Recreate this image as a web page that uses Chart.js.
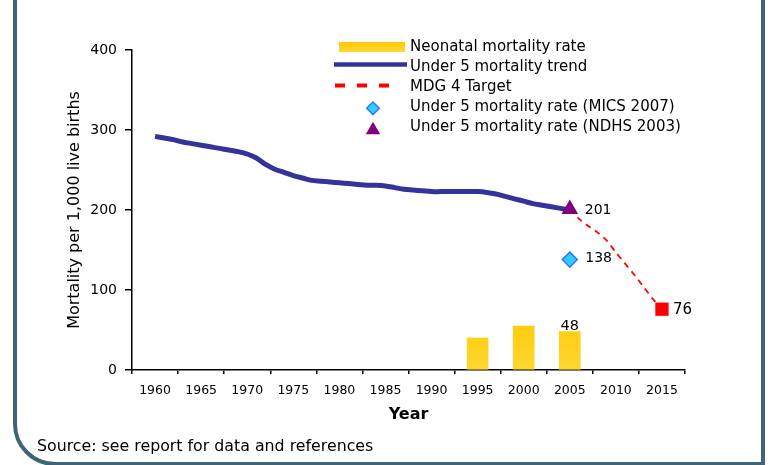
<!DOCTYPE html>
<html>
<head>
<meta charset="utf-8">
<script src="https://cdn.jsdelivr.net/npm/chart.js@4.4.1/dist/chart.umd.min.js"></script>
<style>
  html, body { margin: 0; padding: 0; background: #fff; }
  body { width: 768px; height: 465px; position: relative; overflow: hidden; font-family: "DejaVu Sans", sans-serif; }
  #frame { position: absolute; left: 13px; top: -60px; width: 752px; height: 526px; box-sizing: border-box;
           border: 4px solid #3F6478; border-bottom-left-radius: 42px; }
  #wrap { position: absolute; left: 0; top: 0; width: 768px; height: 465px; }
  #source { position: absolute; left: 37px; top: 436px; font-size: 15.8px; color: #000; white-space: nowrap; }
</style>
</head>
<body>
<div id="frame"></div>
<div id="wrap"><canvas id="mortalityChart"></canvas></div>
<div id="source">Source: see report for data and references</div>
<script>
(() => {
  'use strict';

  // x axis ticks (years)
  const tickYears = [1960, 1965, 1970, 1975, 1980, 1985, 1990, 1995, 2000, 2005, 2010, 2015];

  // neonatal mortality bars
  const neonatalYears = [1995, 2000, 2005];
  const neonatalRate = [40, 55, 48];

  // under 5 mortality trend (yearly)
  const trendYears = [1960, 1961, 1962, 1963, 1964, 1965, 1966, 1967, 1968, 1969,
                      1970, 1971, 1972, 1973, 1974, 1975, 1976, 1977, 1978, 1979,
                      1980, 1981, 1982, 1983, 1984, 1985, 1986, 1987, 1988, 1989,
                      1990, 1991, 1992, 1993, 1994, 1995, 1996, 1997, 1998, 1999,
                      2000, 2001, 2002, 2003, 2004, 2005];
  const trendRate = [292, 290, 288, 285, 283, 281, 279, 277, 275, 273,
                     270, 265, 257, 251, 247, 243, 240, 237, 236, 235,
                     234, 233, 232, 231, 231, 230, 228, 226, 225, 224,
                     223, 223, 223, 223, 223, 223, 222, 220, 217, 214,
                     211, 208, 206, 204, 202, 200];

  // MDG 4 target path
  const targetYears = [2005, 2006, 2007, 2008, 2009, 2010, 2011, 2012, 2013, 2014, 2015];
  const targetRate = [201, 189, 180, 172, 162, 147, 133, 119, 104, 89, 76];

  // survey points
  const micsYear = [2005];
  const micsRate = [138];
  const ndhsYear = [2005];
  const ndhsRate = [201];

  const toXY = (xs, ys) => xs.map((x, i) => ({ x, y: ys[i] }));
  const FONT = "'DejaVu Sans', sans-serif";

  Chart.defaults.font.family = FONT;
  Chart.defaults.color = '#000';

  function barFill(ctx) {
    const chart = ctx.chart;
    const area = chart.chartArea;
    if (!area) return '#FFCC00';
    const g = chart.ctx.createLinearGradient(0, area.bottom - 60, 0, area.bottom);
    g.addColorStop(0, '#FFCA00');
    g.addColorStop(1, '#FFD633');
    return g;
  }

  // legend drawn inside the plot, top right
  const insideLegend = {
    id: 'insideLegend',
    afterDraw(chart) {
      const ctx = chart.ctx;
      const ds = chart.data.datasets;
      ctx.save();
      ctx.font = '15px ' + FONT;
      ctx.fillStyle = '#000';
      ctx.textAlign = 'left';
      ctx.textBaseline = 'middle';
      ds.forEach((d, i) => ctx.fillText(d.label, 410, 47.5 + i * 20));

      // bar swatch
      const g = ctx.createLinearGradient(0, 42, 0, 52);
      g.addColorStop(0, '#FFCA00');
      g.addColorStop(1, '#FFD633');
      ctx.fillStyle = g;
      ctx.fillRect(339, 42, 66, 10);

      // trend line
      ctx.strokeStyle = '#333399';
      ctx.lineWidth = 4.5;
      ctx.beginPath(); ctx.moveTo(334, 64.5); ctx.lineTo(407, 64.5); ctx.stroke();

      // dashed target
      ctx.strokeStyle = '#FF0000';
      ctx.lineWidth = 4;
      ctx.setLineDash([10, 12]);
      ctx.beginPath(); ctx.moveTo(335, 85.5); ctx.lineTo(393, 85.5); ctx.stroke();
      ctx.setLineDash([]);

      // diamond
      ctx.fillStyle = '#33CCFF';
      ctx.strokeStyle = '#3377FF';
      ctx.lineWidth = 1.5;
      ctx.beginPath();
      ctx.moveTo(373, 102); ctx.lineTo(379.3, 108.3); ctx.lineTo(373, 114.6); ctx.lineTo(366.7, 108.3);
      ctx.closePath(); ctx.fill(); ctx.stroke();

      // triangle
      ctx.fillStyle = '#800080';
      ctx.beginPath();
      ctx.moveTo(373, 121.7); ctx.lineTo(380.2, 134.2); ctx.lineTo(365.8, 134.2);
      ctx.closePath(); ctx.fill();
      ctx.restore();
    }
  };

  // value labels next to a few marks
  const valueLabels = {
    id: 'valueLabels',
    afterDatasetsDraw(chart) {
      const ctx = chart.ctx;
      ctx.save();
      ctx.fillStyle = '#000';
      const put = (di, pi, dx, dy, size, align, base) => {
        const el = chart.getDatasetMeta(di).data[pi];
        if (!el) return;
        const v = chart.data.datasets[di].data[pi].y;
        ctx.font = size + 'px ' + FONT;
        ctx.textAlign = align;
        ctx.textBaseline = base;
        ctx.fillText(String(v), el.x + dx, el.y + dy);
      };
      put(0, 2, 0, -2, 14.5, 'center', 'alphabetic');
      put(4, 0, 15, 1, 14, 'left', 'middle');
      put(3, 0, 15.5, -1, 14, 'left', 'middle');
      put(2, targetRate.length - 1, 11, 1, 15, 'left', 'middle');
      ctx.restore();
    }
  };

  const ctx = document.getElementById('mortalityChart');
  new Chart(ctx, {
    type: 'bar',
    data: {
      datasets: [
        {
          type: 'bar',
          label: 'Neonatal mortality rate',
          data: toXY(neonatalYears, neonatalRate),
          backgroundColor: barFill,
          barThickness: 21,
          order: 5
        },
        {
          type: 'line',
          label: 'Under 5 mortality trend',
          data: toXY(trendYears, trendRate),
          borderColor: '#333399',
          borderWidth: 5,
          pointRadius: 0,
          tension: 0.3,
          fill: false,
          order: 4
        },
        {
          type: 'line',
          label: 'MDG 4 Target',
          data: toXY(targetYears, targetRate),
          borderColor: '#FF0000',
          borderWidth: 1.8,
          borderDash: [6, 5],
          tension: 0.3,
          fill: false,
          pointStyle: 'rect',
          pointRadius: targetRate.map((_, i) => (i === targetRate.length - 1 ? 9.4 : 0)),
          pointBackgroundColor: '#FF0000',
          pointBorderColor: '#FF0000',
          pointBorderWidth: 0,
          order: 3
        },
        {
          type: 'line',
          label: 'Under 5 mortality rate (MICS 2007)',
          data: toXY(micsYear, micsRate),
          showLine: false,
          pointStyle: 'rectRot',
          pointRadius: 7.5,
          pointBackgroundColor: '#33CCFF',
          pointBorderColor: '#3377FF',
          pointBorderWidth: 1.5,
          order: 2
        },
        {
          type: 'line',
          label: 'Under 5 mortality rate (NDHS 2003)',
          data: toXY(ndhsYear, ndhsRate),
          showLine: false,
          pointStyle: 'triangle',
          pointRadius: 9.6,
          pointBackgroundColor: '#800080',
          pointBorderColor: '#800080',
          pointBorderWidth: 0,
          order: 1
        }
      ]
    },
    options: {
      responsive: true,
      maintainAspectRatio: false,
      animation: false,
      layout: { padding: { left: 60, right: 83, top: 50, bottom: 35 } },
      plugins: {
        legend: { display: false },
        tooltip: { enabled: false }
      },
      scales: {
        x: {
          type: 'linear',
          min: 1957.5,
          max: 2017.5,
          offset: false,
          afterBuildTicks: scale => { scale.ticks = tickYears.map(v => ({ value: v })); },
          afterFit: scale => { scale.height = 60; },
          grid: { display: true, offset: true, drawOnChartArea: false, drawTicks: true, tickLength: 4, color: '#000', lineWidth: 1.5 },
          border: { display: true, color: '#000', width: 1.5 },
          ticks: { padding: 9, maxRotation: 0, autoSkip: false, font: { size: 12.5 }, color: '#000', callback: v => String(v) },
          title: { display: true, text: 'Year', font: { size: 16, weight: 'bold' }, color: '#000', padding: { top: 4, bottom: 6 } }
        },
        y: {
          min: 0,
          max: 400,
          afterFit: scale => { scale.width = 72; },
          grid: { display: true, drawOnChartArea: false, drawTicks: true, tickLength: 7, color: '#000', lineWidth: 1.5 },
          border: { display: true, color: '#000', width: 1.5 },
          ticks: { stepSize: 100, padding: 8, font: { size: 14 }, color: '#000' },
          title: { display: true, text: 'Mortality per 1,000 live births', font: { size: 16 }, color: '#000', padding: { top: 5, bottom: 4 } }
        }
      }
    },
    plugins: [valueLabels, insideLegend]
  });
})();
</script>
</body>
</html>
